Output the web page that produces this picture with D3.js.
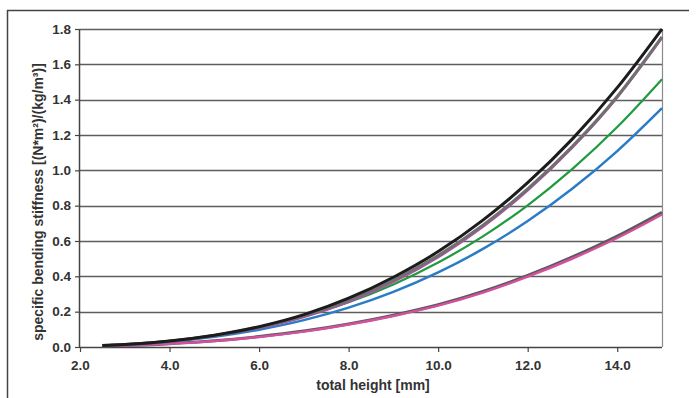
<!DOCTYPE html>
<html><head><meta charset="utf-8">
<script src="https://cdn.jsdelivr.net/npm/d3@7"></script>
<style>
html,body{margin:0;padding:0;background:#fff;}
svg{display:block;}
text{font-family:"Liberation Sans",Arial,sans-serif;font-weight:bold;fill:#333;}
</style></head>
<body>
<svg id="chart" width="696" height="398"></svg>
<script>
// ---- data ----
const heights = [2.5, 3, 4, 5, 6, 7, 8, 9, 10, 11, 12, 13, 14, 15];
const seriesBlack   = [0.008, 0.014, 0.034, 0.067, 0.115, 0.183, 0.276, 0.395, 0.540, 0.718, 0.930, 1.178, 1.468, 1.800];
const seriesGray    = [0.008, 0.014, 0.033, 0.065, 0.112, 0.176, 0.264, 0.378, 0.518, 0.690, 0.895, 1.136, 1.418, 1.755];
const seriesMagenta = [0.008, 0.014, 0.032, 0.063, 0.108, 0.170, 0.256, 0.368, 0.508, 0.680, 0.887, 1.130, 1.413, 1.750];
const seriesGreen   = [0.009, 0.015, 0.035, 0.066, 0.111, 0.173, 0.253, 0.354, 0.478, 0.626, 0.802, 1.008, 1.245, 1.516];
const seriesBlue    = [0.008, 0.013, 0.030, 0.058, 0.098, 0.152, 0.223, 0.312, 0.422, 0.555, 0.713, 0.897, 1.109, 1.352];
const seriesGray2   = [0.005, 0.008, 0.019, 0.035, 0.059, 0.090, 0.130, 0.180, 0.239, 0.314, 0.405, 0.510, 0.628, 0.763];
const seriesPink    = [0.005, 0.008, 0.018, 0.034, 0.057, 0.087, 0.127, 0.176, 0.234, 0.308, 0.398, 0.501, 0.617, 0.750];
const xTicks = [2, 4, 6, 8, 10, 12, 14];
const yTicks = [0, 0.2, 0.4, 0.6, 0.8, 1.0, 1.2, 1.4, 1.6, 1.8];
const xTitle = "total height [mm]";
const yTitle = "specific bending stiffness [(N*m²)/(kg/m³)]";

const lines = [
  {values: seriesGray2,   color: "#5a5a5a", width: 3},
  {values: seriesPink,    color: "#d2509e", width: 2.5},
  {values: seriesBlue,    color: "#2a7cc6", width: 2.5},
  {values: seriesGreen,   color: "#1f9a3e", width: 2.2},
  {values: seriesMagenta, color: "#b050a8", width: 2.5},
  {values: seriesGray,    color: "#707070", width: 3},
  {values: seriesBlack,   color: "#1c1c1c", width: 3}
];

// ---- layout ----
const svg = d3.select("#chart");
const mLeft = 80, mRight = 662, mTop = 29, mBottom = 347;
const x = d3.scaleLinear().domain([2, 15]).range([mLeft, mRight]);
const y = d3.scaleLinear().domain([0, 1.8]).range([mBottom, mTop]);

// outer frame
svg.append("line").attr("x1", 7).attr("x2", 689).attr("y1", 10.5).attr("y2", 10.5)
  .attr("stroke", "#444").attr("stroke-width", 1.5);
svg.append("line").attr("x1", 7.5).attr("x2", 7.5).attr("y1", 10).attr("y2", 398)
  .attr("stroke", "#444").attr("stroke-width", 1.5);

// gridlines
svg.append("g").selectAll("line").data(yTicks.filter(d => d > 0)).join("line")
  .attr("x1", mLeft).attr("x2", mRight)
  .attr("y1", d => Math.round(y(d)) + 0.5).attr("y2", d => Math.round(y(d)) + 0.5)
  .attr("stroke", "#5e5e5e").attr("stroke-width", 1.3);

// right border of plot
svg.append("line").attr("x1", mRight + 0.5).attr("x2", mRight + 0.5).attr("y1", mTop).attr("y2", mBottom)
  .attr("stroke", "#8a8a8a").attr("stroke-width", 1.2);

// axes
const yAxis = d3.axisLeft(y).tickValues(yTicks).tickFormat(d3.format(".1f")).tickSize(5).tickPadding(4);
const gy = svg.append("g").attr("transform", `translate(${mLeft},0)`).call(yAxis);
const xAxis = d3.axisBottom(x).tickValues(xTicks).tickFormat(d3.format(".1f")).tickSize(5).tickPadding(8);
const gx = svg.append("g").attr("transform", `translate(0,${mBottom})`).call(xAxis);
[gx, gy].forEach(g => {
  g.select(".domain").attr("stroke", "#444").attr("stroke-width", 1.5);
  g.selectAll(".tick line").attr("stroke", "#444").attr("stroke-width", 1.2);
  g.selectAll(".tick text").attr("font-size", 13.5).attr("font-family", "Liberation Sans, Arial, sans-serif")
    .attr("font-weight", "bold").attr("fill", "#333");
});
gy.select(".domain").attr("d", `M-0.5,${mTop}V${mBottom}`);
gx.select(".domain").attr("d", `M${mLeft},0.5H${mRight}`);

// series
const line = d3.line().x((d, i) => x(heights[i])).y(d => y(d)).curve(d3.curveMonotoneX);
svg.append("g").selectAll("path").data(lines).join("path")
  .attr("d", d => line(d.values))
  .attr("fill", "none")
  .attr("stroke", d => d.color)
  .attr("stroke-width", d => d.width)
  .attr("stroke-linejoin", "round");

// titles
svg.append("text").attr("x", 373).attr("y", 390)
  .attr("text-anchor", "middle").attr("font-size", 14).text(xTitle);
svg.append("text").attr("transform", `translate(43,${(mTop + mBottom) / 2 + 14}) rotate(-90)`)
  .attr("text-anchor", "middle").attr("font-size", 14).text(yTitle);
</script>
</body></html>
